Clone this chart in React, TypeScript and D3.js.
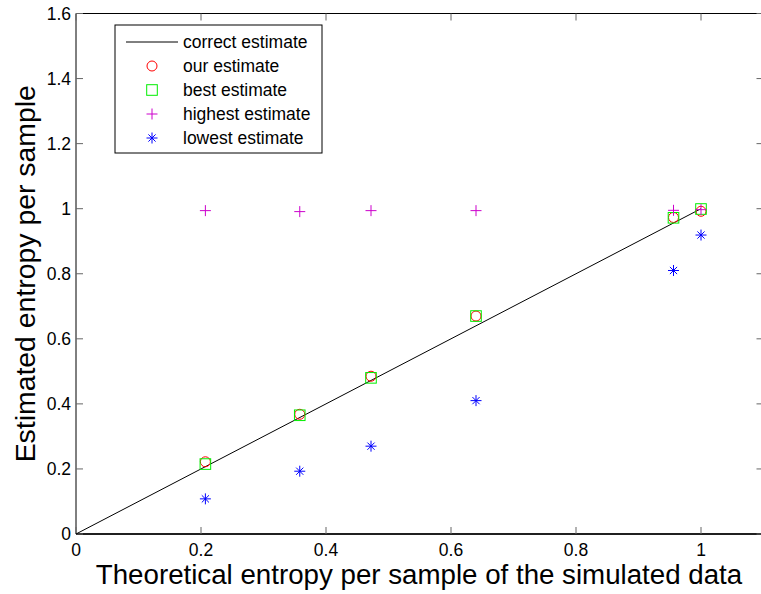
import React from "react";
import * as d3 from "d3";

const xTheory = [0.207, 0.358, 0.472, 0.64, 0.956, 1.0];
const ourEst = [0.222, 0.368, 0.485, 0.67, 0.973, 0.992];
const bestEst = [0.215, 0.365, 0.48, 0.67, 0.972, 0.999];
const highestEst = [0.994, 0.991, 0.994, 0.994, 0.995, 0.997];
const lowestEst = [0.108, 0.193, 0.27, 0.41, 0.81, 0.919];
const xTicks = [0, 0.2, 0.4, 0.6, 0.8, 1];
const yTicks = [0, 0.2, 0.4, 0.6, 0.8, 1, 1.2, 1.4, 1.6];
const legendLabels = ["correct estimate", "our estimate", "best estimate", "highest estimate", "lowest estimate"];

const W = 761, H = 594;
const L = 76, R = 763.5, T = 13.5, B = 534;
const FONT = "'Liberation Sans', Arial, Helvetica, sans-serif";

const x = d3.scaleLinear().domain([0, 1.1]).range([L, R]);
const y = d3.scaleLinear().domain([0, 1.6]).range([B, T]);

const RED = "#ff0000", GREEN = "#00ee00", MAG = "#cc00cc", BLUE = "#0000ff";

function Circle({ cx, cy }: { cx: number; cy: number }) {
  return <circle cx={cx} cy={cy} r={5} fill="none" stroke={RED} strokeWidth={1} />;
}
function Square({ cx, cy }: { cx: number; cy: number }) {
  return <rect x={cx - 5.3} y={cy - 5.3} width={10.6} height={10.6} fill="none" stroke={GREEN} strokeWidth={1} />;
}
function Plus({ cx, cy }: { cx: number; cy: number }) {
  const s = 5.5;
  return <path d={`M${cx - s},${cy}H${cx + s}M${cx},${cy - s}V${cy + s}`} stroke={MAG} strokeWidth={1} fill="none" />;
}
function Star({ cx, cy }: { cx: number; cy: number }) {
  const s = 5.5, d = 3.6;
  return (
    <path
      d={`M${cx - s},${cy}H${cx + s}M${cx},${cy - s}V${cy + s}M${cx - d},${cy - d}L${cx + d},${cy + d}M${cx - d},${cy + d}L${cx + d},${cy - d}`}
      stroke={BLUE}
      strokeWidth={1}
      fill="none"
    />
  );
}

export default function App() {
  const line = d3.line<number>().x((d) => x(d)).y((d) => y(d));
  const lx = 115, ly = 25, lw = 207, lh = 128;
  const rowY = (i: number) => ly + 17 + i * 24;
  const mx = 152;
  return (
    <svg width={W} height={H} style={{ position: "absolute", left: 0, top: 0, background: "#fff" }} fontFamily={FONT}>
      <rect x={0} y={0} width={W} height={H} fill="#fff" />
      {/* axes box */}
      <path d={`M${L},${B}V${T}H${R}V${B}Z`} fill="none" stroke="#000" strokeWidth={1} />
      <line x1={L} x2={R} y1={B} y2={B} stroke="#000" strokeWidth={1.6} />
      {/* ticks */}
      {xTicks.map((t) => (
        <g key={"xt" + t}>
          <line x1={x(t)} x2={x(t)} y1={B} y2={B - 7} stroke="#666" strokeWidth={1} />
          <line x1={x(t)} x2={x(t)} y1={T} y2={T + 7} stroke="#666" strokeWidth={1} />
          <text x={x(t)} y={556} textAnchor="middle" fontSize={17.5} fill="#000">{String(t)}</text>
        </g>
      ))}
      {yTicks.map((t) => (
        <g key={"yt" + t}>
          <line x1={L} x2={L + 7} y1={y(t)} y2={y(t)} stroke="#666" strokeWidth={1} />
          <line x1={R} x2={R - 7} y1={y(t)} y2={y(t)} stroke="#666" strokeWidth={1} />
          <text x={71} y={y(t) + 6} textAnchor="end" fontSize={17.5} fill="#000">{String(t)}</text>
        </g>
      ))}
      {/* correct estimate line */}
      <path d={line([0, 1]) || ""} stroke="#000" strokeWidth={1} fill="none" />
      {xTheory.map((v, i) => <Circle key={"o" + i} cx={x(v)} cy={y(ourEst[i])} />)}
      {xTheory.map((v, i) => <Square key={"s" + i} cx={x(v)} cy={y(bestEst[i])} />)}
      {xTheory.map((v, i) => <Plus key={"p" + i} cx={x(v)} cy={y(highestEst[i])} />)}
      {xTheory.map((v, i) => <Star key={"a" + i} cx={x(v)} cy={y(lowestEst[i])} />)}
      {/* legend */}
      <rect x={lx} y={ly} width={lw} height={lh} fill="#fff" stroke="#000" strokeWidth={1} />
      <line x1={126} x2={178} y1={rowY(0)} y2={rowY(0)} stroke="#000" strokeWidth={1} />
      <Circle cx={mx} cy={rowY(1)} />
      <Square cx={mx} cy={rowY(2)} />
      <Plus cx={mx} cy={rowY(3)} />
      <Star cx={mx} cy={rowY(4)} />
      {legendLabels.map((s, i) => (
        <text key={s} x={183} y={rowY(i) + 6} fontSize={17.5} fill="#000">{s}</text>
      ))}
      {/* axis labels */}
      <text x={419} y={584} textAnchor="middle" fontSize={27.7} fill="#000">Theoretical entropy per sample of the simulated data</text>
      <text transform={`translate(35,${(T + B) / 2}) rotate(-90)`} textAnchor="middle" fontSize={28.4} fill="#000">Estimated entropy per sample</text>
    </svg>
  );
}
